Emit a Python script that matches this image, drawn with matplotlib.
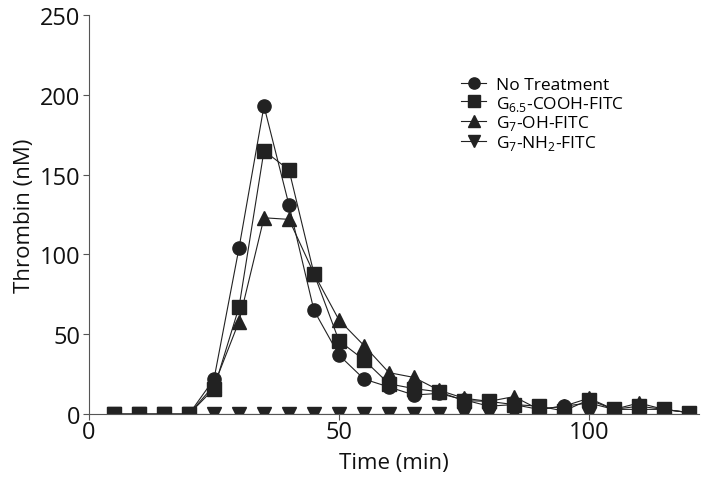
import matplotlib.pyplot as plt

plt.rcParams['font.family'] = ['Open Sans', 'DejaVu Sans']
plt.rcParams['mathtext.fontset'] = 'custom'
plt.rcParams['mathtext.rm'] = 'Open Sans'

# time points (min)
time = [5, 10, 15, 20, 25, 30, 35, 40, 45, 50, 55, 60, 65, 70, 75, 80,
        85, 90, 95, 100, 105, 110, 115, 120]

# thrombin (nM) per treatment
no_treatment = [0, 0, 0, 0, 22, 104, 193, 131, 65, 37, 22, 17, 12, 13, 9, 5,
                6, 3, 5, 7, 3, 3, 3, 1]
g65_cooh = [0, 0, 0, 0, 16, 67, 165, 153, 88, 46, 34, 19, 16, 14, 8.5, 8,
            6, 5, 2, 9, 3, 5, 3, 1]
g7_oh = [0, 0, 0, 0, 18, 58, 123, 122, 88, 59, 43, 26, 23, 15, 10, 8,
         11, 3, 5, 10, 3, 7, 3, 1]
g7_nh2 = [0] * len(time)

labels = ['No Treatment', r'G$_{\mathregular{6.5}}$-COOH-FITC',
          r'G$_{\mathregular{7}}$-OH-FITC', r'G$_{\mathregular{7}}$-NH$_{\mathregular{2}}$-FITC']

fig = plt.figure(figsize=(7.01, 4.85), dpi=100)
ax = fig.add_axes([0.127, 0.144, 0.870, 0.823])

kw = dict(color='#222222', linewidth=0.8, markersize=9.5)
h4, = ax.plot(time, g7_nh2, marker='v', **kw)
h1, = ax.plot(time, no_treatment, marker='o', **kw)
h3, = ax.plot(time, g7_oh, marker='^', **kw)
h2, = ax.plot(time, g65_cooh, marker='s', **kw)

ax.set_xlim(0, 122)
ax.set_ylim(0, 250)
ax.set_xticks([0, 50, 100])
ax.set_yticks([0, 50, 100, 150, 200, 250])
ax.spines['top'].set_visible(False)
ax.spines['right'].set_visible(False)
for s in ['left', 'bottom']:
    ax.spines[s].set_color('#555555')
    ax.spines[s].set_linewidth(0.8)
ax.tick_params(axis='both', labelsize=17, length=4, width=0.8, color='#555555',
               labelcolor='#111111', pad=2)
ax.tick_params(axis='x', pad=0)

ax.set_xlabel('Time (min)', fontsize=16, color='#111111', labelpad=6)
ax.set_ylabel('Thrombin (nM)', fontsize=16, color='#111111', labelpad=4)

ax.legend([h1, h2, h3, h4], labels, loc='upper left', bbox_to_anchor=(0.585, 0.885),
          frameon=False, fontsize=12.5, handlelength=1.4, handletextpad=0.6,
          labelspacing=0.05, markerscale=0.85)

fig.savefig('out.png', dpi=100)
